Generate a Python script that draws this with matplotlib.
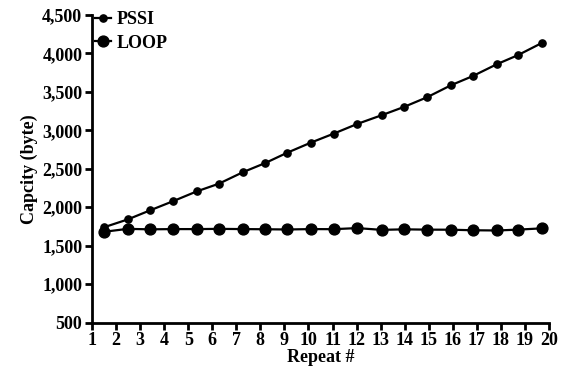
import matplotlib
matplotlib.use('Agg')
import matplotlib.pyplot as plt

# 读取自图片的数据
repeat_x = [1.50, 2.48, 3.40, 4.37, 5.35, 6.27, 7.28, 8.20, 9.12, 10.10,
            11.05, 12.02, 13.04, 13.97, 14.93, 15.93, 16.82, 17.84, 18.71, 19.72]
pssi = [1739, 1840, 1957, 2078, 2205, 2305, 2456, 2574, 2709, 2840,
        2957, 3082, 3196, 3304, 3430, 3587, 3704, 3861, 3978, 4139]
loop = [1680, 1718, 1712, 1715, 1715, 1718, 1715, 1713, 1710, 1715,
        1714, 1728, 1705, 1712, 1708, 1707, 1700, 1697, 1708, 1725]

xticks = list(range(1, 21))
yticks = [500, 1000, 1500, 2000, 2500, 3000, 3500, 4000, 4500]

plt.rcParams['font.family'] = ['Liberation Serif', 'DejaVu Serif']
plt.rcParams['font.weight'] = 'bold'

fig = plt.figure(figsize=(5.62, 3.77), dpi=100)
ax = fig.add_axes([92 / 562, 1 - 322.5 / 377, (549 - 92) / 562, (322.5 - 15) / 377])

ax.plot(repeat_x, pssi, color='black', linewidth=1.6, marker='o', markersize=5.2, label='PSSI')
ax.plot(repeat_x, loop, color='black', linewidth=1.6, marker='o', markersize=7.8, label='LOOP')

ax.set_xlim(1, 20)
ax.set_ylim(500, 4500)
ax.set_xticks(xticks)
ax.set_yticks(yticks)
ax.set_yticklabels([f'{v:,}' for v in yticks])

for s in ['top', 'right']:
    ax.spines[s].set_visible(False)
for s in ['left', 'bottom']:
    ax.spines[s].set_linewidth(2)
ax.tick_params(axis='both', width=2, length=5, labelsize=13, pad=2)
for lab in ax.get_xticklabels() + ax.get_yticklabels():
    lab.set_fontweight('bold')

ax.set_xlabel('Repeat #', fontsize=13, fontweight='bold', labelpad=0)
ax.set_ylabel('Capcity (byte)', fontsize=13, fontweight='bold', labelpad=3)

leg = ax.legend(loc='upper left', bbox_to_anchor=(-0.03, 1.065), frameon=False,
                fontsize=13, handlelength=0.9, handletextpad=0.3, labelspacing=0.35)
for t in leg.get_texts():
    t.set_fontweight('bold')

fig.savefig('out.png', dpi=100)
